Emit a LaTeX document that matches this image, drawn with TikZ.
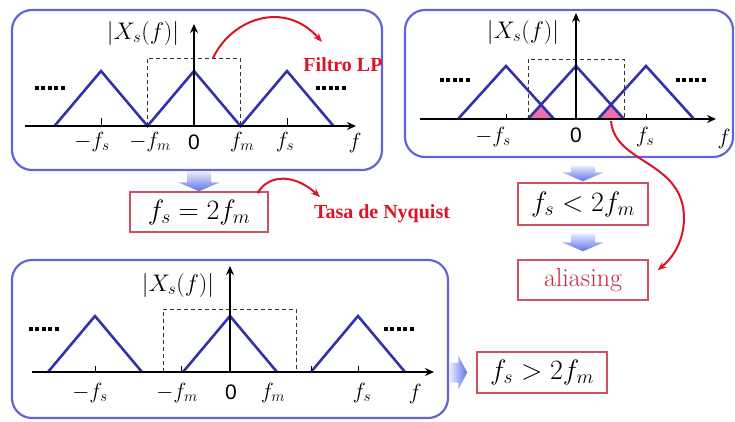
\RequirePackage{fix-cm}
\documentclass[tikz,border=0pt]{standalone}
\usepackage{fontspec}
\newfontfamily\lpfont{Liberation Serif}
\newfontfamily\zerofont{Liberation Sans}
\usetikzlibrary{arrows.meta,calc}
\definecolor{panelc}{RGB}{100,100,215}
\definecolor{tric}{RGB}{50,50,170}
\definecolor{boxc}{RGB}{210,80,95}
\definecolor{redc}{RGB}{220,20,40}
\definecolor{alc}{RGB}{200,40,60}
\definecolor{pinkc}{RGB}{240,110,170}
\definecolor{arrlight}{RGB}{228,232,253}
\definecolor{arrdark}{RGB}{95,115,235}
\newcommand\fatdown[4]{%
  \shade[top color=arrlight, bottom color=arrdark]
   let \p1=(#1), \p2=(#2) in
   (\x2-12pt,\y1-#3pt) -- (\x2+12pt,\y1-#3pt) -- (\x2+12pt,\y2+#4pt+9pt) -- (\x2+21pt,\y2+#4pt+9pt)
   -- (\x2,\y2+#4pt) -- (\x2-21pt,\y2+#4pt+9pt) -- (\x2-12pt,\y2+#4pt+9pt) -- cycle;}
\newcommand\fatright[4]{%
  \shade[left color=arrlight, right color=arrdark]
   let \p1=(#1), \p2=(#2) in
   (\x1+#3pt,\y2+10pt) -- (\x2-#4pt-9pt,\y2+10pt) -- (\x2-#4pt-9pt,\y2+17pt) -- (\x2-#4pt,\y2)
   -- (\x2-#4pt-9pt,\y2-17pt) -- (\x2-#4pt-9pt,\y2-10pt) -- (\x1+#3pt,\y2-10pt) -- cycle;}
\tikzset{
  panel/.style={draw=panelc, line width=2.2pt, rounded corners=20pt, inner sep=0pt},
  rbox/.style={draw=boxc, line width=1.5pt, fill=white, inner sep=0pt, font=\fontsize{28}{32}\selectfont},
  lab/.style={font=\fontsize{22}{26}\selectfont, inner sep=0pt},
  ylab/.style={font=\fontsize{24}{28}\selectfont, inner sep=0pt},
  zlab/.style={font=\zerofont\fontsize{21}{24}\selectfont, inner sep=0pt},
  axis/.style={line width=2.5pt, -{Stealth[length=9pt,width=8pt]}},
  tri/.style={draw=tric, line width=2.6pt, line join=miter},
  tickm/.style={line width=1pt},
  dots/.style={line width=3.5pt, dash pattern=on 4pt off 2.4pt},
  dashbox/.style={draw=black!80, line width=1pt, dash pattern=on 4pt off 3pt},
  redarrow/.style={draw=redc, line width=2pt, -{Stealth[length=9pt,width=7pt]}},
  redtext/.style={text=redc, font=\lpfont\bfseries\fontsize{20}{24}\selectfont, inner sep=0pt}
}
\begin{document}
\begin{tikzpicture}[x=1pt,y=-1pt]
\useasboundingbox (0,0) rectangle (735,421);
% panels
\node[panel, minimum width=370pt, minimum height=160pt] (p1) at (197,90) {};
\node[panel, minimum width=328pt, minimum height=147pt] (p2) at (569,83.5) {};
\node[panel, minimum width=436pt, minimum height=158pt] (p3) at (230,339) {};
% boxes
\node[rbox, minimum width=138pt, minimum height=40pt] (b1) at (199,212) {$f_s = 2f_m$};
\node[rbox, minimum width=130pt, minimum height=42pt] (b2) at (583,204) {$f_s < 2f_m$};
\node[rbox, minimum width=130pt, minimum height=40pt, text=alc, font=\fontsize{26}{30}\selectfont] (b3) at (583,280) {aliasing};
\node[rbox, minimum width=130pt, minimum height=41pt] (b4) at (542,372.5) {$f_s > 2f_m$};
% fat arrows
\fatdown{p1.south}{b1.north}{1}{0}
\fatdown{p2.south}{b2.north}{8}{1}
\fatdown{b2.south}{b3.north}{8}{8}
\fatright{p3.east}{b4.west}{1}{9}
% ---------- panel 1
\draw[dashbox] (147,126) -- (147,58) -- (240,58) -- (240,126);
\draw[tri] (54.5,126) -- (101,71) -- (147.5,126) -- (194,71) -- (240.5,126) -- (287,71) -- (333.5,126);
\draw[axis] (25,126) -- (356,126);
\draw[axis] (194,126) -- (194,24);
\draw[tickm] (101,126) -- (101,118) (287,126) -- (287,118);
\draw[dots] (35,88) -- (65,88);
\draw[dots] (316,88) -- (346,88);
\node[ylab] (y1) at (143,33) {$|X_s(f)|$};
\node[lab] (l1a) at (92,142) {$-f_s$};
\node[lab] (l1b) at (150,142) {$-f_m$};
\node[zlab] (l1c) at (194,142) {0};
\node[lab] (l1d) at (242,142) {$f_m$};
\node[lab] (l1e) at (285,142) {$f_s$};
\node[lab] (l1f) at (355,143) {$f$};
\node[redtext] (lp) at (343,65) {Filtro LP};
\coordinate (lps) at (213,58);
\coordinate (lpe) at (322,42);
\draw[redarrow] (lps) .. controls (232,18) and (285,0) .. (lpe);
% ---------- panel 2
\draw[dashbox] (528,119) -- (528,59) -- (624,59) -- (624,119);
\fill[pinkc] (528,119) -- (554,119) -- (541,104.7) -- cycle;
\fill[pinkc] (598,119) -- (624,119) -- (611,104.7) -- cycle;
\draw[tri] (458,119) -- (506,66) -- (554,119);
\draw[tri] (528,119) -- (576,66) -- (624,119);
\draw[tri] (598,119) -- (646,66) -- (694,119);
\draw[axis] (420,119) -- (716,119);
\draw[axis] (576,119) -- (576,13);
\draw[tickm] (506,119) -- (506,114) (646,119) -- (646,114);
\draw[dots] (440,80) -- (470,80);
\draw[dots] (676,80) -- (706,80);
\node[ylab] (y2) at (523,32) {$|X_s(f)|$};
\node[lab] (l2a) at (493,137) {$-f_s$};
\node[zlab] (l2b) at (576,135) {0};
\node[lab] (l2c) at (645,137) {$f_s$};
\node[lab] (l2d) at (724,139) {$f$};
\coordinate (als) at (611,121);
\coordinate (ale) at ($(b3.north east)+(9,11)$);
\draw[redarrow] (als) .. controls (615,165) and (685,160) .. (684,220) .. controls (683,245) and (670,260) .. (ale);
% ---------- Nyquist
\node[redtext] (nyq) at (382,214) {Tasa de Nyquist};
\coordinate (nqs) at ($(b1.north east)+(-11,2)$);
\coordinate (nqe) at (320,197);
\draw[redarrow] (nqs) .. controls (265,178) and (290,170) .. (nqe);
% ---------- panel 3
\draw[dashbox] (163,372) -- (163,309) -- (296,309) -- (296,372);
\draw[tri] (48,372) -- (95,316) -- (142,372);
\draw[tri] (183,372) -- (230,316) -- (277,372);
\draw[tri] (311,372) -- (358,316) -- (405,372);
\draw[axis] (32,372) -- (434,372);
\draw[axis] (230,372) -- (230,266);
\draw[tickm] (95,372) -- (95,366) (181,372) -- (181,366) (311,372) -- (311,366) (358,372) -- (358,366);
\draw[dots] (29,329) -- (59,329);
\draw[dots] (384,329) -- (414,329);
\node[ylab] (y3) at (178,285) {$|X_s(f)|$};
\node[lab] (l3a) at (90,393) {$-f_s$};
\node[lab] (l3b) at (177,393) {$-f_m$};
\node[zlab] (l3c) at (231,392) {0};
\node[lab] (l3d) at (273,393) {$f_m$};
\node[lab] (l3e) at (362,393) {$f_s$};
\node[lab] (l3f) at (415,394) {$f$};
\end{tikzpicture}
\end{document}
